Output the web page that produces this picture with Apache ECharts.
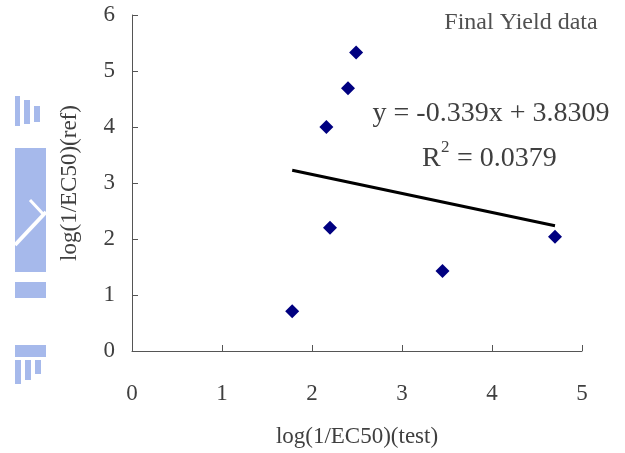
<!DOCTYPE html>
<html>
<head>
<meta charset="utf-8">
<script src="https://cdn.jsdelivr.net/npm/echarts@6/dist/echarts.min.js"></script>
<style>
  html, body { margin: 0; padding: 0; background: #ffffff; }
  #chart { width: 625px; height: 453px; }
</style>
</head>
<body>
<div id="chart"></div>
<script>
// Measured toxicity: test organism vs reference
var xTest = [1.78, 2.16, 2.20, 2.40, 2.49, 3.45, 4.70];
var yRef  = [0.71, 4.00, 2.20, 4.69, 5.33, 1.43, 2.04];

// Linear fit as reported on the chart
var fitSlope = -0.339;
var fitIntercept = 3.8309;
var fitR2 = 0.0379;

var xTicks = [0, 1, 2, 3, 4, 5];
var yTicks = [0, 1, 2, 3, 4, 5, 6];

var titleText = 'Final Yield data';
var xName = 'log(1/EC50)(test)';
var yName = 'log(1/EC50)(ref)';

var points = xTest.map(function (x, i) { return [x, yRef[i]]; });
var xMin = Math.min.apply(null, xTest);
var xMax = Math.max.apply(null, xTest);
var fitLine = [xMin, xMax].map(function (x) { return [x, fitSlope * x + fitIntercept]; });

var eqText = 'y = ' + fitSlope + 'x + ' + fitIntercept;
var r2Text = ' = ' + fitR2;

var FONT = '"Liberation Serif", "Times New Roman", serif';
var TXT = '#3f3f3f';
var AXIS = '#555555';
var WM = 'rgba(128, 155, 226, 0.7)';

var chart = echarts.init(document.getElementById('chart'), null, { renderer: 'canvas' });

chart.setOption({
  animation: false,
  backgroundColor: '#ffffff',
  grid: { left: 132, right: 43, top: 15, bottom: 102, containLabel: false },
  xAxis: {
    type: 'value',
    min: xTicks[0], max: xTicks[xTicks.length - 1], interval: 1,
    name: xName, nameLocation: 'middle', nameGap: 74,
    nameTextStyle: { fontFamily: FONT, fontSize: 23, color: TXT },
    axisLine: { show: true, lineStyle: { color: AXIS, width: 1 } },
    axisTick: { show: true, inside: true, length: 6, lineStyle: { color: AXIS } },
    axisLabel: { fontFamily: FONT, fontSize: 23, color: TXT, margin: 31 },
    splitLine: { show: false }
  },
  yAxis: {
    type: 'value',
    min: yTicks[0], max: yTicks[yTicks.length - 1], interval: 1,
    name: yName, nameLocation: 'middle', nameGap: 51,
    nameTextStyle: { fontFamily: FONT, fontSize: 23, color: TXT },
    axisLine: { show: true, lineStyle: { color: AXIS, width: 1 } },
    axisTick: { show: true, inside: true, length: 6, lineStyle: { color: AXIS } },
    axisLabel: { fontFamily: FONT, fontSize: 23, color: TXT, margin: 17 },
    splitLine: { show: false }
  },
  series: [
    {
      type: 'line',
      data: fitLine,
      symbol: 'none',
      lineStyle: { color: '#000000', width: 3 },
      z: 2
    },
    {
      type: 'scatter',
      data: points,
      symbol: 'diamond',
      symbolSize: 14,
      itemStyle: { color: '#000080', opacity: 1 },
      z: 3
    }
  ],
  graphic: [
    // faded emblem at the left margin
    { type: 'group', silent: true, children: [
      { type: 'rect', shape: { x: 15, y: 96, width: 5, height: 30 }, style: { fill: WM } },
      { type: 'rect', shape: { x: 24, y: 100, width: 6, height: 24 }, style: { fill: WM } },
      { type: 'rect', shape: { x: 34, y: 106, width: 6, height: 16 }, style: { fill: WM } },
      { type: 'rect', shape: { x: 15, y: 148, width: 31, height: 124 }, style: { fill: WM } },
      { type: 'polyline', shape: { points: [[15, 245], [46, 212]] }, style: { stroke: '#ffffff', lineWidth: 4, fill: null } },
      { type: 'polyline', shape: { points: [[30, 200], [44, 215]] }, style: { stroke: '#ffffff', lineWidth: 3, fill: null } },
      { type: 'rect', shape: { x: 15, y: 282, width: 31, height: 16 }, style: { fill: WM } },
      { type: 'rect', shape: { x: 15, y: 345, width: 31, height: 12 }, style: { fill: WM } },
      { type: 'rect', shape: { x: 15, y: 360, width: 6, height: 24 }, style: { fill: WM } },
      { type: 'rect', shape: { x: 25, y: 360, width: 6, height: 20 }, style: { fill: WM } },
      { type: 'rect', shape: { x: 35, y: 360, width: 6, height: 14 }, style: { fill: WM } }
    ] },
    {
      type: 'text', x: 521, y: 23,
      style: { text: titleText, fontFamily: FONT, fontSize: 24, fill: '#505050', textAlign: 'center', textVerticalAlign: 'middle' }
    },
    {
      type: 'text', x: 491, y: 114,
      style: { text: eqText, fontFamily: FONT, fontSize: 28, fill: TXT, textAlign: 'center', textVerticalAlign: 'middle' }
    },
    {
      type: 'text', x: 422, y: 159,
      style: { text: 'R', fontFamily: FONT, fontSize: 28, fill: TXT, textAlign: 'left', textVerticalAlign: 'middle' }
    },
    {
      type: 'text', x: 441, y: 148,
      style: { text: '2', fontFamily: FONT, fontSize: 17, fill: TXT, textAlign: 'left', textVerticalAlign: 'middle' }
    },
    {
      type: 'text', x: 450, y: 159,
      style: { text: r2Text, fontFamily: FONT, fontSize: 28, fill: TXT, textAlign: 'left', textVerticalAlign: 'middle' }
    }
  ]
});
</script>
</body>
</html>
